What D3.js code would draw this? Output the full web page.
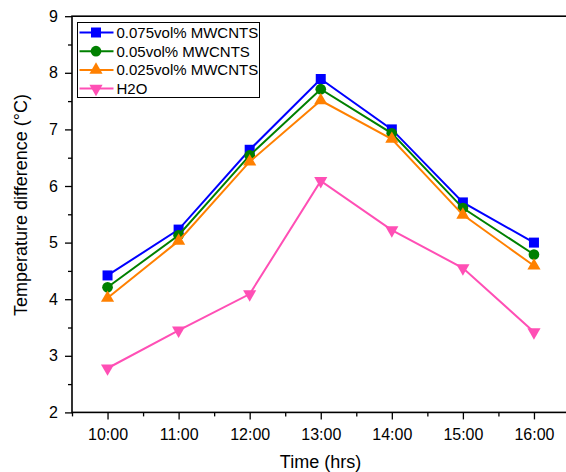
<!DOCTYPE html>
<html>
<head>
<meta charset="utf-8">
<script src="https://cdn.jsdelivr.net/npm/d3@7"></script>
<style>
  body { margin: 0; background: #fff; }
  svg { display: block; font-family: "Liberation Sans", Arial, sans-serif; }
</style>
</head>
<body>
<div id="my_dataviz"></div>
<script>
// data
var times = ["10:00", "11:00", "12:00", "13:00", "14:00", "15:00", "16:00"];
var mwcnt075 = [4.42, 5.23, 6.64, 7.89, 7.00, 5.71, 5.00];
var mwcnt05 = [4.21, 5.13, 6.54, 7.71, 6.93, 5.61, 4.79];
var mwcnt025 = [4.02, 5.03, 6.43, 7.51, 6.83, 5.49, 4.59];
var water = [2.78, 3.45, 4.09, 6.09, 5.22, 4.55, 3.42];
var seriesNames = ["0.075vol% MWCNTS", "0.05vol% MWCNTS", "0.025vol% MWCNTS", "H2O"];
var yTicks = [2, 3, 4, 5, 6, 7, 8, 9];

var series = [
    { name: seriesNames[0], values: mwcnt075, color: "#0000ff", symbol: d3.symbolSquare, size: 100, rot: 0 },
    { name: seriesNames[1], values: mwcnt05, color: "#008000", symbol: d3.symbolCircle, size: 90, rot: 0 },
    { name: seriesNames[2], values: mwcnt025, color: "#ff8000", symbol: d3.symbolTriangle, size: 75, rot: 0 },
    { name: seriesNames[3], values: water, color: "#ff4fb5", symbol: d3.symbolTriangle, size: 75, rot: 180 }
];

var width = 566, height = 472;
var margin = { top: 16.2, left: 72, bottom: 412.4, right: 569.5 };

var svg = d3.select("#my_dataviz")
    .append("svg")
    .attr("width", width)
    .attr("height", height);

var x = d3.scaleLinear()
    .domain([-0.5, times.length - 0.5])
    .range([margin.left, margin.right]);

var y = d3.scaleLinear()
    .domain([2, 9])
    .range([margin.bottom, margin.top]);

// bottom axis with major + minor ticks
var majorX = d3.range(times.length);
var minorX = d3.range(times.length + 1).map(function (i) { return i - 0.5; });

svg.append("g")
    .attr("transform", "translate(0," + margin.bottom + ")")
    .call(d3.axisBottom(x).tickValues(minorX).tickSize(4).tickFormat(""))
    .call(function (g) { g.select(".domain").remove(); })
    .selectAll("line").attr("stroke", "#000").attr("stroke-width", 1.3);

svg.append("g")
    .attr("transform", "translate(0," + margin.bottom + ")")
    .call(d3.axisBottom(x).tickValues(majorX).tickSize(7).tickPadding(9)
        .tickFormat(function (d) { return times[d]; }))
    .call(function (g) {
        g.select(".domain").remove();
        g.selectAll("line").attr("stroke", "#000").attr("stroke-width", 1.3);
        g.selectAll("text").attr("font-size", 16).attr("fill", "#000")
            .attr("font-family", "Liberation Sans, Arial, sans-serif");
    });

// left axis
var minorY = d3.range(2.5, 9, 1);
svg.append("g")
    .attr("transform", "translate(" + margin.left + ",0)")
    .call(d3.axisLeft(y).tickValues(minorY).tickSize(4).tickFormat(""))
    .call(function (g) { g.select(".domain").remove(); })
    .selectAll("line").attr("stroke", "#000").attr("stroke-width", 1.3);

svg.append("g")
    .attr("transform", "translate(" + margin.left + ",0)")
    .call(d3.axisLeft(y).tickValues(yTicks).tickSize(7).tickPadding(7).tickFormat(d3.format("d")))
    .call(function (g) {
        g.select(".domain").remove();
        g.selectAll("line").attr("stroke", "#000").attr("stroke-width", 1.3);
        g.selectAll("text").attr("font-size", 16).attr("fill", "#000")
            .attr("font-family", "Liberation Sans, Arial, sans-serif");
    });

// frame
svg.append("rect")
    .attr("x", margin.left)
    .attr("y", margin.top)
    .attr("width", margin.right - margin.left)
    .attr("height", margin.bottom - margin.top)
    .attr("fill", "none")
    .attr("stroke", "#000")
    .attr("stroke-width", 1.6);

// lines and markers
var line = d3.line()
    .x(function (d, i) { return x(i); })
    .y(function (d) { return y(d); });

series.forEach(function (s) {
    svg.append("path")
        .datum(s.values)
        .attr("fill", "none")
        .attr("stroke", s.color)
        .attr("stroke-width", 2)
        .attr("d", line);

    svg.selectAll(null)
        .data(s.values)
        .enter()
        .append("path")
        .attr("d", d3.symbol().type(s.symbol).size(s.size))
        .attr("transform", function (d, i) {
            return "translate(" + x(i) + "," + y(d) + ") rotate(" + s.rot + ")";
        })
        .attr("fill", s.color);
});

// legend
var legend = svg.append("g").attr("transform", "translate(77.5,22.5)");
legend.append("rect")
    .attr("width", 182)
    .attr("height", 75)
    .attr("fill", "#fff")
    .attr("stroke", "#000")
    .attr("stroke-width", 1);

series.forEach(function (s, i) {
    var row = legend.append("g").attr("transform", "translate(0," + (10 + i * 18.7) + ")");
    row.append("line")
        .attr("x1", 2).attr("x2", 36)
        .attr("stroke", s.color).attr("stroke-width", 2);
    row.append("path")
        .attr("d", d3.symbol().type(s.symbol).size(s.size))
        .attr("transform", "translate(18.5,0) rotate(" + s.rot + ")")
        .attr("fill", s.color);
    row.append("text")
        .attr("x", 39)
        .attr("dy", "0.36em")
        .attr("font-size", 15)
        .attr("fill", "#000")
        .text(s.name);
});

// axis titles
svg.append("text")
    .attr("x", 320.5)
    .attr("y", 467.5)
    .attr("text-anchor", "middle")
    .attr("font-size", 18)
    .text("Time (hrs)");

svg.append("text")
    .attr("transform", "rotate(-90)")
    .attr("x", -205)
    .attr("y", 27)
    .attr("text-anchor", "middle")
    .attr("font-size", 18)
    .text("Temperature difference (°C)");
</script>
</body>
</html>
